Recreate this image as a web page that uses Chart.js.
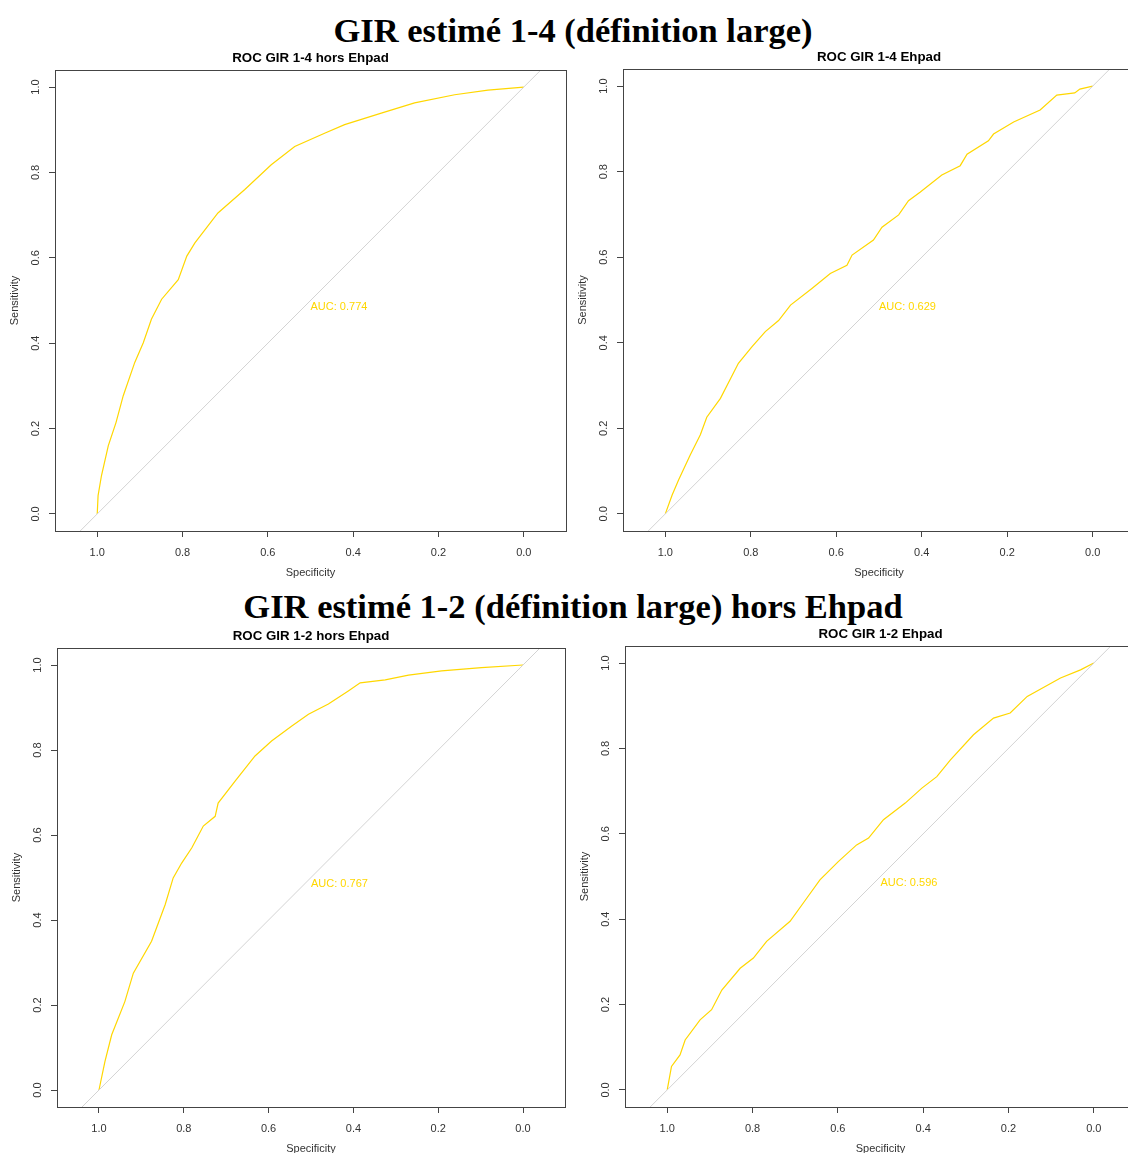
<!DOCTYPE html>
<html>
<head>
<meta charset="utf-8">
<script src="https://cdn.jsdelivr.net/npm/chart.js@4.4.1/dist/chart.umd.min.js"></script>
<style>
html, body { margin: 0; padding: 0; background: #fff; width: 1128px; height: 1153px; overflow: hidden; }
body { position: relative; }
h1 { position: absolute; left: 0; width: 1146px; margin: 0; text-align: center;
     font: bold 34.5px 'Liberation Serif', serif; line-height: 40px; color: #000; }
canvas { position: absolute; }
</style>
</head>
<body>
<h1 style="top:10px">GIR estimé 1-4 (définition large)</h1>
<h1 style="top:586px">GIR estimé 1-2 (définition large) hors Ehpad</h1>
<canvas id="roc1" width="576" height="546" style="left:0px;top:40px"></canvas>
<canvas id="roc2" width="577" height="547" style="left:568px;top:39px"></canvas>
<canvas id="roc3" width="573" height="544" style="left:2px;top:618px"></canvas>
<canvas id="roc4" width="576" height="546" style="left:570px;top:616px"></canvas>
<script>
// axis ticks
const xTicks = [1.0, 0.8, 0.6, 0.4, 0.2, 0.0];
const yTicks = [0.0, 0.2, 0.4, 0.6, 0.8, 1.0];

// chance line (specificity, sensitivity)
const chanceSpec = [1.2, -0.2];
const chanceSens = [-0.2, 1.2];

// ROC GIR 1-4 hors Ehpad
const spec14Hors = [1.0, 0.998, 0.990, 0.974, 0.956, 0.939, 0.912, 0.892, 0.873, 0.849, 0.810, 0.790, 0.771, 0.717, 0.654, 0.592, 0.537, 0.467, 0.420, 0.334, 0.256, 0.162, 0.084, 0.0];
const sens14Hors = [0.0, 0.043, 0.090, 0.160, 0.214, 0.277, 0.355, 0.401, 0.456, 0.503, 0.549, 0.604, 0.635, 0.705, 0.760, 0.818, 0.861, 0.892, 0.912, 0.939, 0.963, 0.982, 0.993, 1.0];

// ROC GIR 1-4 Ehpad
const spec14Ehpad = [1.0, 0.984, 0.969, 0.942, 0.918, 0.903, 0.871, 0.829, 0.797, 0.766, 0.735, 0.707, 0.657, 0.614, 0.575, 0.563, 0.513, 0.493, 0.454, 0.431, 0.404, 0.353, 0.310, 0.294, 0.244, 0.232, 0.185, 0.123, 0.084, 0.042, 0.030, 0.0];
const sens14Ehpad = [0.0, 0.044, 0.079, 0.137, 0.185, 0.226, 0.270, 0.352, 0.391, 0.426, 0.452, 0.488, 0.527, 0.562, 0.581, 0.605, 0.640, 0.670, 0.699, 0.732, 0.752, 0.792, 0.814, 0.841, 0.872, 0.888, 0.916, 0.944, 0.979, 0.984, 0.993, 1.0];

// ROC GIR 1-2 hors Ehpad
const spec12Hors = [1.0, 0.986, 0.970, 0.939, 0.919, 0.876, 0.844, 0.825, 0.805, 0.781, 0.754, 0.726, 0.719, 0.679, 0.632, 0.593, 0.546, 0.506, 0.459, 0.412, 0.384, 0.325, 0.270, 0.192, 0.098, 0.0];
const sens12Hors = [0.0, 0.067, 0.130, 0.208, 0.275, 0.350, 0.436, 0.499, 0.534, 0.570, 0.621, 0.644, 0.675, 0.727, 0.786, 0.821, 0.856, 0.884, 0.908, 0.939, 0.958, 0.965, 0.976, 0.986, 0.994, 1.0];

// ROC GIR 1-2 Ehpad
const spec12Ehpad = [1.0, 0.990, 0.970, 0.958, 0.923, 0.896, 0.872, 0.829, 0.798, 0.767, 0.712, 0.673, 0.642, 0.599, 0.556, 0.528, 0.493, 0.442, 0.403, 0.368, 0.336, 0.282, 0.235, 0.196, 0.156, 0.078, 0.031, 0.0];
const sens12Ehpad = [0.0, 0.055, 0.082, 0.117, 0.164, 0.188, 0.234, 0.285, 0.309, 0.348, 0.395, 0.449, 0.492, 0.535, 0.574, 0.590, 0.633, 0.672, 0.707, 0.734, 0.773, 0.832, 0.871, 0.883, 0.922, 0.965, 0.984, 1.0];

const panelTitles = ['ROC GIR 1-4 hors Ehpad', 'ROC GIR 1-4 Ehpad', 'ROC GIR 1-2 hors Ehpad', 'ROC GIR 1-2 Ehpad'];
const aucLabels = ['AUC: 0.774', 'AUC: 0.629', 'AUC: 0.767', 'AUC: 0.596'];

Chart.defaults.font.family = "'Liberation Sans', Arial, sans-serif";
Chart.defaults.color = '#333';

const toPoints = (xs, ys) => xs.map((x, i) => ({ x: x, y: ys[i] }));

// R style frame, rotated y labels, title and AUC text
const rocDecor = {
    id: 'rocDecor',
    afterDraw(chart, args, opts) {
        const { ctx, chartArea: a, scales } = chart;
        ctx.save();
        ctx.strokeStyle = '#444';
        ctx.lineWidth = 1;
        ctx.strokeRect(a.left + 0.5, a.top + 0.5, a.right - a.left, a.bottom - a.top);

        ctx.fillStyle = '#333';
        ctx.font = "11px 'Liberation Sans', Arial";
        ctx.textAlign = 'center';
        ctx.textBaseline = 'middle';
        yTicks.forEach(v => {
            const y = scales.y.getPixelForValue(v);
            ctx.save();
            ctx.translate(a.left - 19, y);
            ctx.rotate(-Math.PI / 2);
            ctx.fillText(v.toFixed(1), 0, 0);
            ctx.restore();
        });

        ctx.fillStyle = '#000';
        ctx.font = "bold 13.3px 'Liberation Sans', Arial";
        ctx.fillText(opts.title, (a.left + a.right) / 2, a.top - 12);

        ctx.fillStyle = '#FFD700';
        ctx.font = "11px 'Liberation Sans', Arial";
        ctx.textAlign = 'left';
        ctx.textBaseline = 'top';
        ctx.fillText(opts.auc, scales.x.getPixelForValue(0.5), scales.y.getPixelForValue(0.5) + 1);
        ctx.restore();
    }
};

function drawRoc(id, spec, sens, title, auc) {
    new Chart(document.getElementById(id), {
        type: 'scatter',
        data: {
            datasets: [
                {
                    data: toPoints(chanceSpec, chanceSens),
                    showLine: true,
                    borderColor: '#D3D3D3',
                    borderWidth: 1,
                    pointRadius: 0
                },
                {
                    data: toPoints(spec, sens),
                    showLine: true,
                    borderColor: '#FFD700',
                    borderWidth: 1.2,
                    pointRadius: 0
                }
            ]
        },
        options: {
            responsive: false,
            animation: false,
            layout: { padding: { left: 8, top: 30, right: 10, bottom: 6 } },
            plugins: {
                legend: { display: false },
                tooltip: { enabled: false },
                rocDecor: { title: title, auc: auc }
            },
            scales: {
                x: {
                    type: 'linear',
                    reverse: true,
                    min: -0.099,
                    max: 1.099,
                    afterBuildTicks: s => { s.ticks = xTicks.map(v => ({ value: v })); },
                    afterFit: s => { s.height = 49; s.paddingLeft = 0; s.paddingRight = 0; },
                    grid: { drawOnChartArea: false, tickLength: 6, color: '#444' },
                    border: { color: '#444' },
                    ticks: {
                        font: { size: 11 },
                        color: '#333',
                        padding: 9,
                        maxRotation: 0,
                        callback: v => v.toFixed(1)
                    },
                    title: { display: true, text: 'Specificity', font: { size: 11 }, color: '#333', padding: 0 }
                },
                y: {
                    type: 'linear',
                    min: -0.04,
                    max: 1.04,
                    afterBuildTicks: s => { s.ticks = yTicks.map(v => ({ value: v })); },
                    afterFit: s => { s.width = 47; s.paddingTop = 0; s.paddingBottom = 0; },
                    grid: { drawOnChartArea: false, tickLength: 6, color: '#444' },
                    border: { color: '#444' },
                    ticks: { display: false },
                    title: { display: true, text: 'Sensitivity', font: { size: 11 }, color: '#333', padding: 0 }
                }
            }
        },
        plugins: [rocDecor]
    });
}

drawRoc('roc1', spec14Hors, sens14Hors, panelTitles[0], aucLabels[0]);
drawRoc('roc2', spec14Ehpad, sens14Ehpad, panelTitles[1], aucLabels[1]);
drawRoc('roc3', spec12Hors, sens12Hors, panelTitles[2], aucLabels[2]);
drawRoc('roc4', spec12Ehpad, sens12Ehpad, panelTitles[3], aucLabels[3]);
</script>
</body>
</html>
